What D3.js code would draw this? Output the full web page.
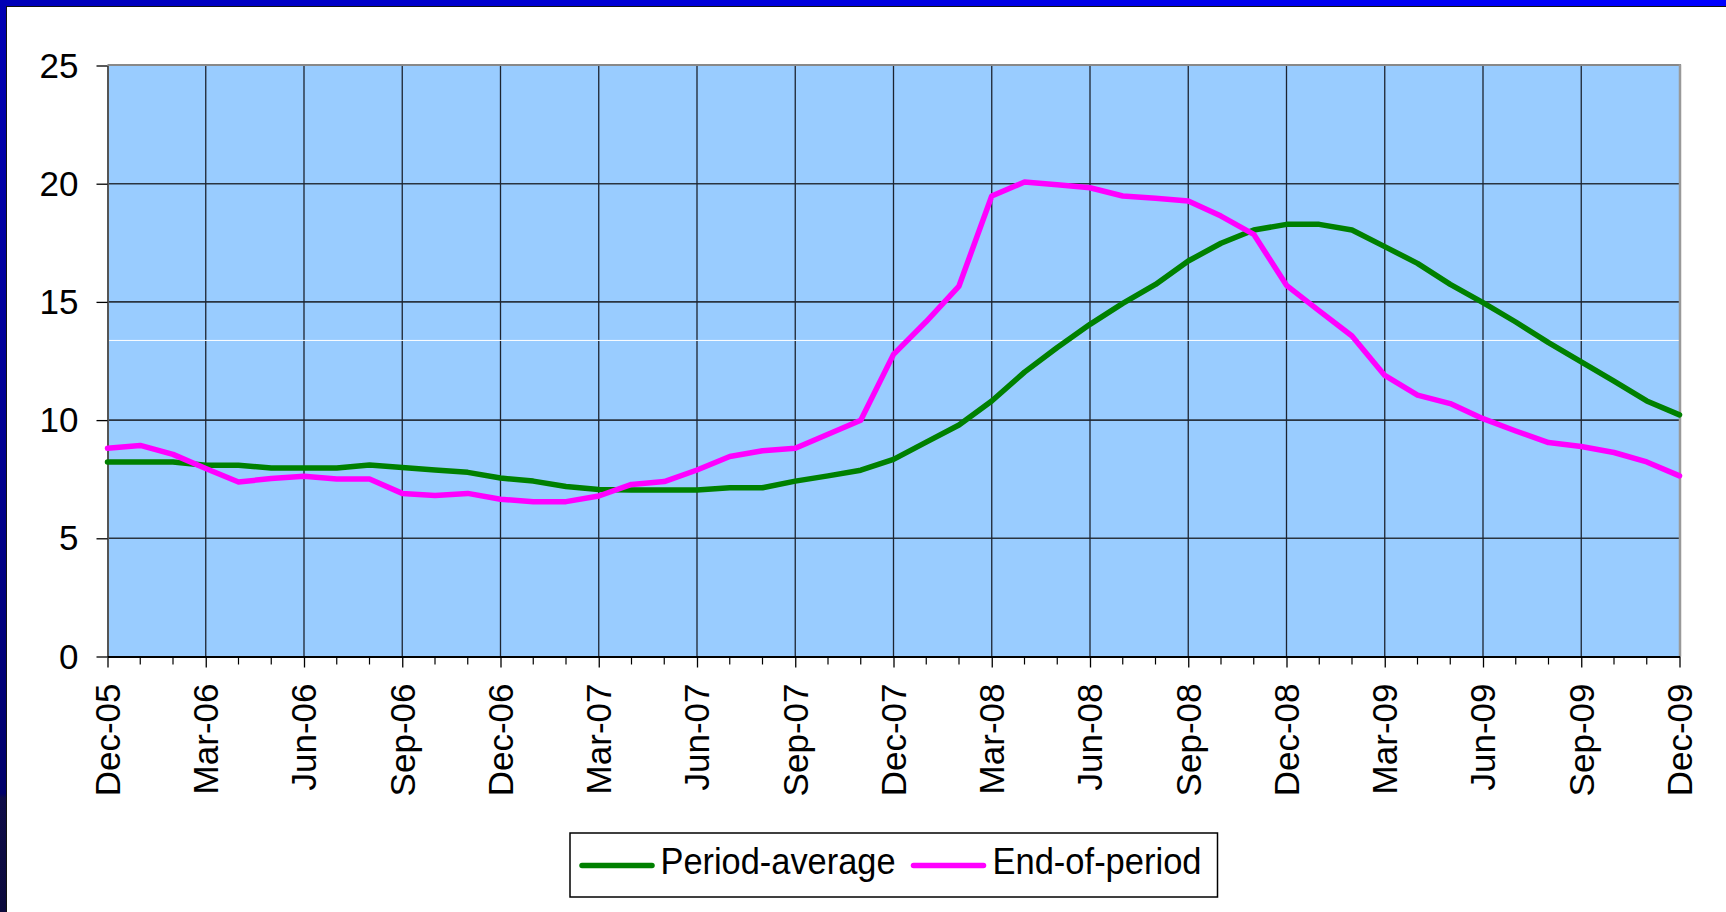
<!DOCTYPE html>
<html>
<head>
<meta charset="utf-8">
<script src="https://cdn.jsdelivr.net/npm/d3@7"></script>
<style>
  body { margin: 0; background: #fff; overflow: hidden; }
  text { font-family: "Liberation Sans", Arial, sans-serif; fill: #000; }
</style>
</head>
<body>
<svg id="chart" width="1726" height="912"></svg>
<script>
// quarterly tick labels on the category axis (one point per month)
var quarterLabels = ["Dec-05","Mar-06","Jun-06","Sep-06","Dec-06","Mar-07","Jun-07","Sep-07",
  "Dec-07","Mar-08","Jun-08","Sep-08","Dec-08","Mar-09","Jun-09","Sep-09","Dec-09"];

// monthly values, Dec-05 .. Dec-09
var periodAverage = [8.23,8.23,8.23,8.09,8.09,7.97,7.97,7.97,8.10,7.99,7.89,7.79,
  7.55,7.42,7.19,7.06,7.04,7.04,7.04,7.14,7.14,7.42,7.64,7.88,
  8.34,9.07,9.79,10.81,12.03,13.07,14.05,14.94,15.74,16.73,17.48,18.04,
  18.28,18.28,18.04,17.34,16.63,15.74,14.97,14.15,13.28,12.46,11.65,10.81,10.22];
var endOfPeriod = [8.81,8.93,8.55,7.95,7.38,7.53,7.62,7.51,7.51,6.90,6.81,6.90,
  6.65,6.55,6.55,6.79,7.28,7.40,7.89,8.46,8.70,8.81,9.40,9.99,
  12.78,14.17,15.67,19.48,20.07,19.96,19.83,19.48,19.38,19.27,18.63,17.86,
  15.70,14.62,13.56,11.89,11.06,10.70,10.06,9.54,9.05,8.88,8.63,8.23,7.64];

var yTicks = [0,5,10,15,20,25];
var seriesNames = ["Period-average","End-of-period"];
var seriesColors = ["#008000","#ff00ff"];

var svg = d3.select("#chart");
var W = 1726, H = 912;

// ---- slide frame (blue border top + left)
var defs = svg.append("defs");
var gTop = defs.append("linearGradient").attr("id","gTop").attr("x1","0").attr("x2","1").attr("y1","0").attr("y2","0");
gTop.append("stop").attr("offset","0").attr("stop-color","#0000b8");
gTop.append("stop").attr("offset","0.5").attr("stop-color","#0000e0");
gTop.append("stop").attr("offset","1").attr("stop-color","#0000ff");
var gLeft = defs.append("linearGradient").attr("id","gLeft").attr("x1","0").attr("x2","0").attr("y1","0").attr("y2","1");
gLeft.append("stop").attr("offset","0").attr("stop-color","#0000b4");
gLeft.append("stop").attr("offset","0.5").attr("stop-color","#000090");
gLeft.append("stop").attr("offset","0.87").attr("stop-color","#00006a");
gLeft.append("stop").attr("offset","0.875").attr("stop-color","#0e0c48");
gLeft.append("stop").attr("offset","1").attr("stop-color","#0c0a3c");

svg.append("rect").attr("x",0).attr("y",0).attr("width",W).attr("height",6).attr("fill","url(#gTop)");
svg.append("rect").attr("x",0).attr("y",0).attr("width",6.5).attr("height",H).attr("fill","url(#gLeft)");
svg.append("line").attr("x1",6).attr("x2",W).attr("y1",6.5).attr("y2",6.5).attr("stroke","#111").attr("stroke-width",1);
svg.append("line").attr("x1",6.5).attr("x2",6.5).attr("y1",6).attr("y2",H).attr("stroke","#111").attr("stroke-width",1);

// ---- plot area
var margin = {left: 107.5, right: 1679.5, top: 65.5, bottom: 656.5};

var x = d3.scaleLinear()
  .domain([0, endOfPeriod.length - 1])
  .range([margin.left, margin.right]);

var y = d3.scaleLinear()
  .domain([0, 25])
  .range([margin.bottom, margin.top]);

svg.append("rect")
  .attr("x", margin.left).attr("y", margin.top)
  .attr("width", margin.right - margin.left)
  .attr("height", margin.bottom - margin.top)
  .attr("fill", "#99ccff");

var quarterIdx = d3.range(0, endOfPeriod.length, 3);

// gridlines
svg.append("g").selectAll("line")
  .data(yTicks.filter(function(d){ return d > 0 && d < 25; }))
  .enter().append("line")
  .attr("x1", margin.left).attr("x2", margin.right)
  .attr("y1", function(d){ return y(d); }).attr("y2", function(d){ return y(d); })
  .attr("stroke", "#2a3440").attr("stroke-width", 1.6);

svg.append("g").selectAll("line")
  .data(quarterIdx.slice(1, -1))
  .enter().append("line")
  .attr("x1", function(d){ return x(d); }).attr("x2", function(d){ return x(d); })
  .attr("y1", margin.top).attr("y2", margin.bottom)
  .attr("stroke", "#1c2430").attr("stroke-width", 1.3);

// faint white streak across the plot (as in the source image)
var glareLevel = 13.37;
svg.append("line")
  .attr("x1", margin.left).attr("x2", margin.right)
  .attr("y1", y(glareLevel)).attr("y2", y(glareLevel))
  .attr("stroke", "#fff").attr("stroke-width", 1);

// plot border top / right
svg.append("line").attr("x1", margin.left).attr("x2", margin.right + 1.5)
  .attr("y1", margin.top - 0.5).attr("y2", margin.top - 0.5)
  .attr("stroke", "#888").attr("stroke-width", 2);
svg.append("line").attr("x1", margin.right + 0.5).attr("x2", margin.right + 0.5)
  .attr("y1", margin.top - 1).attr("y2", margin.bottom)
  .attr("stroke", "#999").attr("stroke-width", 2.5);

// ---- axes
var yAxis = d3.axisLeft(y)
  .tickValues(yTicks)
  .tickSize(11)
  .tickPadding(18)
  .tickSizeOuter(0);
var yg = svg.append("g").attr("transform", "translate(" + margin.left + ",0)").call(yAxis);
yg.select(".domain").attr("stroke", "#555").attr("stroke-width", 2);
yg.selectAll(".tick line").attr("stroke", "#000").attr("stroke-width", 1.3);
yg.selectAll("text").style("font-size", "35px").attr("dy", "0.33em");

// minor monthly ticks
svg.append("g").selectAll("line")
  .data(d3.range(0, endOfPeriod.length).filter(function(d){ return d % 3 !== 0; }))
  .enter().append("line")
  .attr("x1", function(d){ return x(d); }).attr("x2", function(d){ return x(d); })
  .attr("y1", margin.bottom).attr("y2", margin.bottom + 8)
  .attr("stroke", "#000").attr("stroke-width", 1.2);

var xAxis = d3.axisBottom(x)
  .tickValues(quarterIdx)
  .tickFormat(function(d, i){ return quarterLabels[i]; })
  .tickSize(11)
  .tickSizeOuter(0);
var xg = svg.append("g").attr("transform", "translate(0," + margin.bottom + ")").call(xAxis);
xg.select(".domain").attr("stroke", "#000").attr("stroke-width", 2);
xg.selectAll(".tick line").attr("stroke", "#000").attr("stroke-width", 1.3);
xg.selectAll("text")
  .style("font-size", "35px")
  .attr("transform", "rotate(-90)")
  .attr("text-anchor", "end")
  .attr("x", -27)
  .attr("y", 0)
  .attr("dy", "0.34em");

// ---- series
var line = d3.line()
  .x(function(d, i){ return x(i); })
  .y(function(d){ return y(d); });

[periodAverage, endOfPeriod].forEach(function(series, k){
  svg.append("path")
    .datum(series)
    .attr("d", line)
    .attr("fill", "none")
    .attr("stroke", seriesColors[k])
    .attr("stroke-width", 5.5)
    .attr("stroke-linejoin", "round")
    .attr("stroke-linecap", "round");
});

// ---- legend
var legend = svg.append("g");
legend.append("rect")
  .attr("x", 570).attr("y", 833)
  .attr("width", 647.5).attr("height", 64)
  .attr("fill", "#fff").attr("stroke", "#000").attr("stroke-width", 1.5);

var legendItems = [
  {lx: 582, tx: 660.5, tw: 235},
  {lx: 913.5, tx: 992.5, tw: 209}
];
legendItems.forEach(function(it, k){
  legend.append("line")
    .attr("x1", it.lx).attr("x2", it.lx + 70)
    .attr("y1", 865.5).attr("y2", 865.5)
    .attr("stroke", seriesColors[k]).attr("stroke-width", 5.5)
    .attr("stroke-linecap", "round");
  legend.append("text")
    .attr("x", it.tx).attr("y", 873.5)
    .style("font-size", "37px")
    .attr("textLength", it.tw)
    .attr("lengthAdjust", "spacingAndGlyphs")
    .text(seriesNames[k]);
});
</script>
</body>
</html>
